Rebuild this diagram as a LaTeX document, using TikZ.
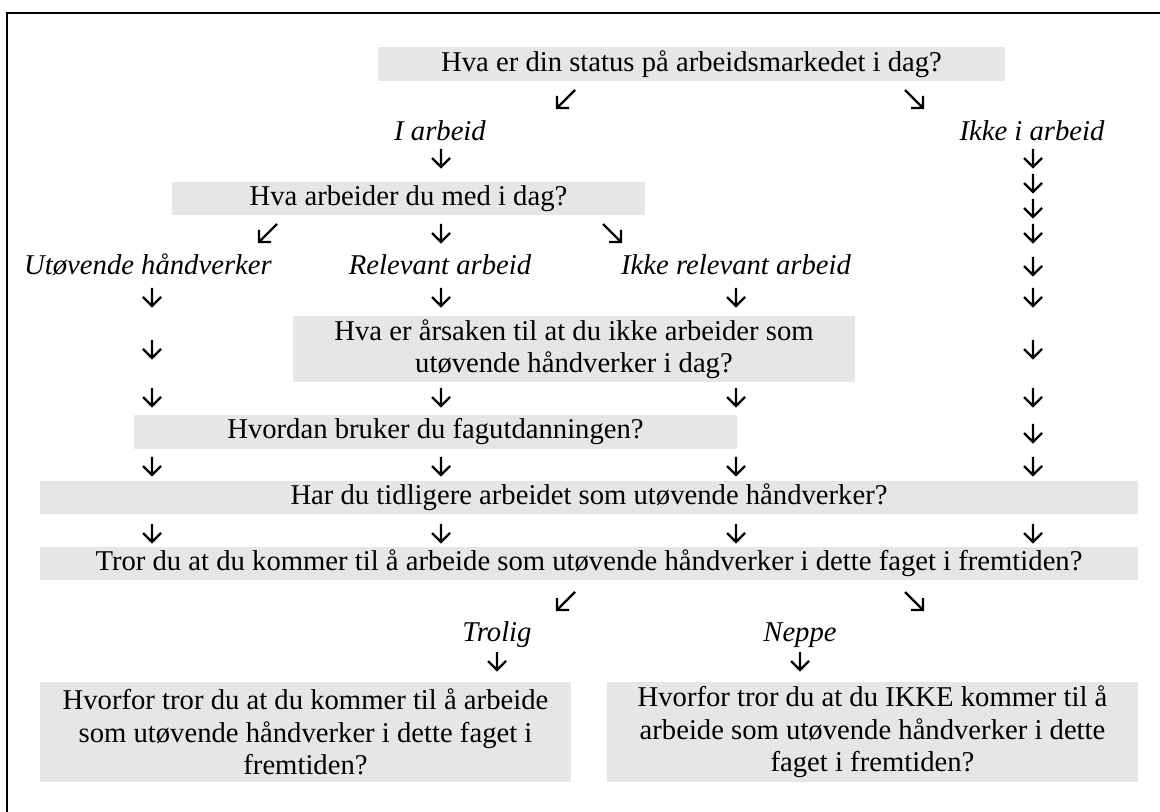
\documentclass[tikz,border=0pt]{standalone}
\usepackage{fontspec}
\setmainfont{Liberation Serif}
\definecolor{boxgrey}{RGB}{230,230,230}
\newcommand\fsz{\fontsize{21.5pt}{24.4pt}\selectfont}
\tikzset{
  arrowline/.style={line width=1.7pt, line cap=butt, line join=miter},
  darr/.pic={\draw[arrowline] (0,-9) -- (0,9) (-9,0) -- (0,9) -- (9,0);},
  dlarr/.pic={\draw[arrowline] (9,-9) -- (-9,9) (3,9) -- (-9,9) -- (-9,-3);},
  drarr/.pic={\draw[arrowline] (-9,-9) -- (9,9) (-3,9) -- (9,9) -- (9,-3);},
  box/.style 2 args={fill=boxgrey, inner sep=0pt, align=center, font=\fsz,
    minimum width=#1*0.75pt, minimum height=#2*0.75pt},
  lbl/.style={inner sep=0pt, font=\fsz\itshape, text height=0.68em, text depth=0.22em},
  frame/.style={line width=1.5pt}
}
\begin{document}
\begin{tikzpicture}[x=0.75pt, y=-0.75pt]
\useasboundingbox (0,0) rectangle (1160,812);
% frame
\coordinate (fa) at (7,812);
\coordinate (fb) at (7,13);
\coordinate (fc) at (1160,13);
\draw[frame] (fa) -- (fb) -- (fc);
% boxes
\node[box={627}{34}] (q1) at (691.5,64) {Hva er din status på arbeidsmarkedet i dag?};
\node[box={473}{33}] (q2) at (408.5,198.5) {Hva arbeider du med i dag?};
\node[box={562}{66}] (q3) at (574,349) {Hva er årsaken til at du ikke arbeider som\\utøvende håndverker i dag?};
\node[box={603}{34}] (q4) at (435.5,432) {Hvordan bruker du fagutdanningen?};
\node[box={1098}{33}] (q5) at (589,497.5) {Har du tidligere arbeidet som utøvende håndverker?};
\node[box={1098}{33}] (q6) at (589,563.5) {Tror du at du kommer til å arbeide som utøvende håndverker i dette faget i fremtiden?};
\node[box={531}{100}] (q7) at (305.5,732) {Hvorfor tror du at du kommer til å arbeide\\som utøvende håndverker i dette faget i\\fremtiden?};
\node[box={531}{100}] (q8) at (872.5,732) {Hvorfor tror du at du IKKE kommer til å\\arbeide som utøvende håndverker i dette\\faget i fremtiden?};
% labels
\node[lbl] (a1) at (440,137) {I arbeid};
\node[lbl] (a2) at (1032,137) {Ikke i arbeid};
\node[lbl] (b1) at (148,271) {Utøvende håndverker};
\node[lbl] (b2) at (440,271) {Relevant arbeid};
\node[lbl] (b3) at (736,271) {Ikke relevant arbeid};
\node[lbl] (c1) at (497,638) {Trolig};
\node[lbl] (c2) at (800,638) {Neppe};
% diagonal arrows
\pic at (566,99) {dlarr};
\pic at (914,99) {drarr};
\pic at (268,233) {dlarr};
\pic at (612,233) {drarr};
\pic at (566,601) {dlarr};
\pic at (914,601) {drarr};
% down arrows
\foreach \y in {158,183,208,233,266,297,349,397,433,466,533} {\pic at (1033,\y) {darr};}
\foreach \y in {158,233} {\pic at (441,\y) {darr};}
\foreach \x in {152,441,736} {\pic at (\x,297) {darr}; \pic at (\x,397) {darr}; \pic at (\x,466) {darr}; \pic at (\x,533) {darr};}
\pic at (152,349) {darr};
\pic at (497,661) {darr};
\pic at (800,661) {darr};
\end{tikzpicture}
\end{document}
